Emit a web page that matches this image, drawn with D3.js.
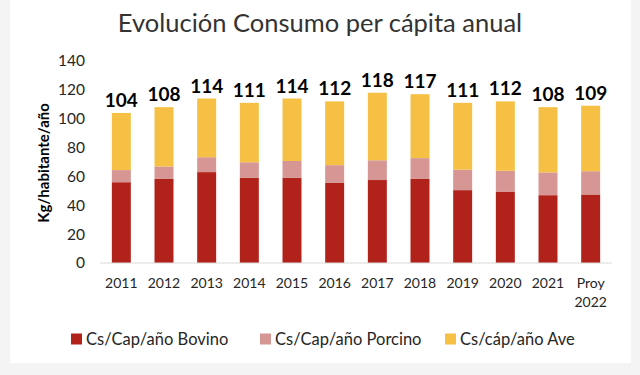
<!DOCTYPE html>
<html>
<head>
<meta charset="utf-8">
<script src="https://cdn.jsdelivr.net/npm/d3@7"></script>
<style>
  body { margin: 0; background: #f4f4f4; }
  svg { display: block; }
  text { font-family: Lato, "Open Sans", sans-serif; }
</style>
</head>
<body>
<svg id="chart"></svg>
<script>
// Values
const years = ["2011", "2012", "2013", "2014", "2015", "2016", "2017", "2018", "2019", "2020", "2021", "Proy 2022"];
const bovino = [56, 58.5, 63, 59, 59, 55.5, 57.5, 58.5, 50.5, 49.5, 47, 47.5];
const porcino = [8.4, 8.4, 10.3, 10.8, 11.7, 12.3, 13.7, 14.2, 14.2, 14.4, 15.8, 16.1];
const ave = [39.6, 41.1, 40.7, 41.2, 43.3, 44.2, 46.8, 44.3, 46.3, 48.1, 45.2, 45.4];
const totals = [104, 108, 114, 111, 114, 112, 118, 117, 111, 112, 108, 109];
const seriesNames = ["Cs/Cap/año Bovino", "Cs/Cap/año Porcino", "Cs/cáp/año Ave"];
const yTicks = [0, 20, 40, 60, 80, 100, 120, 140];

const width = 640, height = 375;
const margin = { top: 61, right: 28, bottom: 112, left: 100 };
const colors = ["#b1221a", "#d59694", "#f5c043"];

const svg = d3.select("#chart")
	.attr("width", width)
	.attr("height", height);

// white card on the light grey background
svg.append("rect")
	.attr("x", 10).attr("y", 0)
	.attr("width", 621).attr("height", 363)
	.attr("fill", "#fff");

const rows = years.map((y, i) => ({ year: y, b: bovino[i], p: porcino[i], a: ave[i], total: totals[i] }));
const stack = d3.stack().keys(["b", "p", "a"]);
const layers = stack(rows);

const x = d3.scaleBand()
	.domain(years)
	.range([margin.left, width - margin.right])
	.paddingInner(0.555)
	.paddingOuter(0.2775);

const y = d3.scaleLinear()
	.domain([0, 140])
	.range([height - margin.bottom, margin.top]);

// title
svg.append("text")
	.attr("x", 320).attr("y", 32)
	.attr("text-anchor", "middle")
	.attr("font-size", 25.5)
	.attr("fill", "#333")
	.text("Evolución Consumo per cápita anual");

// y axis labels
svg.append("g")
	.selectAll("text")
	.data(yTicks)
	.join("text")
	.attr("x", 85)
	.attr("y", d => y(d))
	.attr("dy", "0.35em")
	.attr("text-anchor", "end")
	.attr("font-size", 15.5)
	.attr("fill", "#262626")
	.text(d => d);

svg.append("text")
	.attr("transform", `translate(49,${163}) rotate(-90)`)
	.attr("text-anchor", "middle")
	.attr("font-size", 15)
	.attr("font-weight", "bold")
	.attr("fill", "#000")
	.text("Kg/habitante/año");

// bars
svg.append("g")
	.selectAll("g")
	.data(layers)
	.join("g")
	.attr("fill", (d, i) => colors[i])
	.selectAll("rect")
	.data(d => d)
	.join("rect")
	.attr("x", d => x(d.data.year))
	.attr("width", x.bandwidth())
	.attr("y", d => y(d[1]))
	.attr("height", d => y(d[0]) - y(d[1]));

// baseline
svg.append("line")
	.attr("x1", margin.left).attr("x2", width - margin.right)
	.attr("y1", y(0)).attr("y2", y(0))
	.attr("stroke", "#d9d9d9")
	.attr("stroke-width", 1);

// total labels
svg.append("g")
	.selectAll("text")
	.data(rows)
	.join("text")
	.attr("x", d => x(d.year) + x.bandwidth() / 2)
	.attr("y", d => y(d3.sum([d.b, d.p, d.a])) - 6)
	.attr("text-anchor", "middle")
	.attr("font-size", 19)
	.attr("font-weight", "bold")
	.attr("fill", "#000")
	.text(d => d.total);

// x labels
svg.append("g")
	.selectAll("text")
	.data(years)
	.join("text")
	.attr("x", d => x(d) + x.bandwidth() / 2)
	.attr("y", 288)
	.attr("text-anchor", "middle")
	.attr("font-size", 14)
	.attr("fill", "#262626")
	.selectAll("tspan")
	.data(d => d.split(" "))
	.join("tspan")
	.attr("x", function () { return this.parentNode.getAttribute("x"); })
	.attr("dy", (d, i) => i === 0 ? 0 : 19)
	.text(d => d);

// legend
const legendX = [71, 260, 445];
const legend = svg.append("g")
	.selectAll("g")
	.data(seriesNames)
	.join("g")
	.attr("transform", (d, i) => `translate(${legendX[i]},339)`);

legend.append("rect")
	.attr("x", 0).attr("y", -5.5)
	.attr("width", 11).attr("height", 11)
	.attr("fill", (d, i) => colors[i]);

legend.append("text")
	.attr("x", 15)
	.attr("dy", "0.35em")
	.attr("font-size", 16.5)
	.attr("fill", "#262626")
	.text(d => d);
</script>
</body>
</html>
